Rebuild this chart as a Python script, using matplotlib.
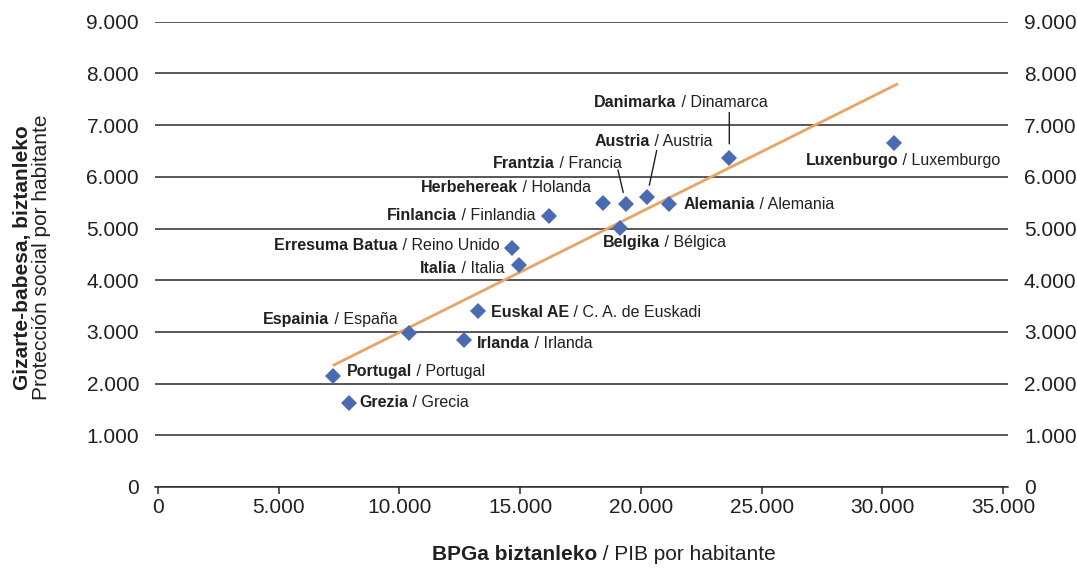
import numpy as np
import matplotlib
matplotlib.use('Agg')
import matplotlib.pyplot as plt
from matplotlib.ticker import FuncFormatter, MultipleLocator

plt.rcParams['font.family'] = ['Liberation Sans', 'DejaVu Sans']

# data: PIB per capita (x) vs social protection per capita (y)
names_eu = ['Portugal', 'Grezia', 'Espainia', 'Irlanda', 'Euskal AE', 'Italia',
            'Erresuma Batua', 'Finlancia', 'Herbehereak', 'Belgika', 'Frantzia',
            'Austria', 'Alemania', 'Danimarka', 'Luxenburgo']
names_es = ['Portugal', 'Grecia', 'España', 'Irlanda', 'C. A. de Euskadi', 'Italia',
            'Reino Unido', 'Finlandia', 'Holanda', 'Bélgica', 'Francia',
            'Austria', 'Alemania', 'Dinamarca', 'Luxemburgo']
pib = [7240, 7920, 10410, 12670, 13240, 14960,
       14680, 16200, 18440, 19140, 19380,
       20240, 21180, 23660, 30460]
babesa = [2150, 1620, 2985, 2840, 3400, 4300,
          4615, 5240, 5500, 5010, 5475,
          5600, 5475, 6355, 6645]

trend_x = [7290, 30600]
trend_y = [2360, 7790]

# label offsets in pixels (left edge of label, vertical centre) relative to the point
label_off = {
    'Portugal': (14, 4), 'Grezia': (10, 1), 'Espainia': (-146, 13), 'Irlanda': (13, -3),
    'Euskal AE': (13, -1), 'Italia': (-99, -4), 'Erresuma Batua': (-238, 3),
    'Finlancia': (-162, 1), 'Herbehereak': (-182, 15), 'Belgika': (-17, -15),
    'Frantzia': (-133, 40), 'Austria': (-52, 56), 'Alemania': (14, -1),
    'Danimarka': (-135, 56), 'Luxenburgo': (-88, -17),
}
# leader lines: start offset (pixels) and gap to point (points)
leaders = {'Danimarka': (0, 46, 10.5), 'Austria': (10, 47, 9), 'Frantzia': (-8, 34, 8.5)}

txt_col = '#231f20'
line_col = '#2a2a2a'
fig = plt.figure(figsize=(10.77, 5.69), dpi=100)
ax = fig.add_axes([155 / 1077, 1 - 487 / 569, (1008 - 155) / 1077, (487 - 21.7) / 569])

ax.set_xlim(-120, 35200)
ax.set_ylim(0, 9000)
ax.yaxis.set_major_locator(MultipleLocator(1000))
ax.xaxis.set_major_locator(MultipleLocator(5000))
fmt = FuncFormatter(lambda v, p: f'{int(round(v)):,}'.replace(',', '.'))
ax.xaxis.set_major_formatter(fmt)
ax.yaxis.set_major_formatter(fmt)
ax.grid(axis='y', color=line_col, lw=1.1)
ax.set_axisbelow(True)
for s in ['top', 'left', 'right']:
    ax.spines[s].set_visible(False)
ax.spines['bottom'].set_color(line_col)
ax.spines['bottom'].set_linewidth(1.1)
ax.tick_params(axis='y', left=False, right=False, labelleft=True, labelright=True,
               labelsize=15, colors=txt_col, pad=8)
ax.tick_params(axis='x', direction='out', length=5, width=1.1, color=line_col,
               labelsize=15, labelcolor=txt_col, pad=3)

ax.plot(trend_x, trend_y, color='#E9A363', lw=2, zorder=2)
ax.plot(pib, babesa, 'D', color='#4A6BB1', ms=8.3, mew=0, zorder=3)

for i, n in enumerate(names_eu):
    dx, dy = label_off[n]
    t = ax.annotate(n, xy=(pib[i], babesa[i]), xytext=(dx, dy), textcoords='offset pixels',
                    ha='left', va='center', fontsize=11.5, fontweight='bold', color=txt_col)
    ax.annotate(' / ' + names_es[i], xy=(1, 0), xycoords=t, ha='left', va='bottom',
                fontsize=11.5, color=txt_col)
    if n in leaders:
        lx, ly, gap = leaders[n]
        ax.annotate('', xy=(pib[i], babesa[i]), xytext=(lx, ly), textcoords='offset pixels',
                    arrowprops=dict(arrowstyle='-', color=txt_col, lw=1, shrinkA=0, shrinkB=gap))

# axis titles
fig.text(23 / 1077, 1 - 258 / 569, 'Gizarte-babesa, biztanleko', rotation=90, ha='center',
         va='center', fontsize=15, fontweight='bold', color=txt_col)
fig.text(42 / 1077, 1 - 257 / 569, 'Protección social por habitante', rotation=90, ha='center',
         va='center', fontsize=15, color=txt_col)
xt = fig.text(432 / 1077, 1 - 554 / 569, 'BPGa biztanleko', ha='left', va='center',
              fontsize=15, fontweight='bold', color=txt_col)
ax.annotate(' / PIB por habitante', xy=(1, 0), xycoords=xt, ha='left', va='bottom',
            fontsize=15, color=txt_col, annotation_clip=False)

fig.savefig('out.png', dpi=100)
